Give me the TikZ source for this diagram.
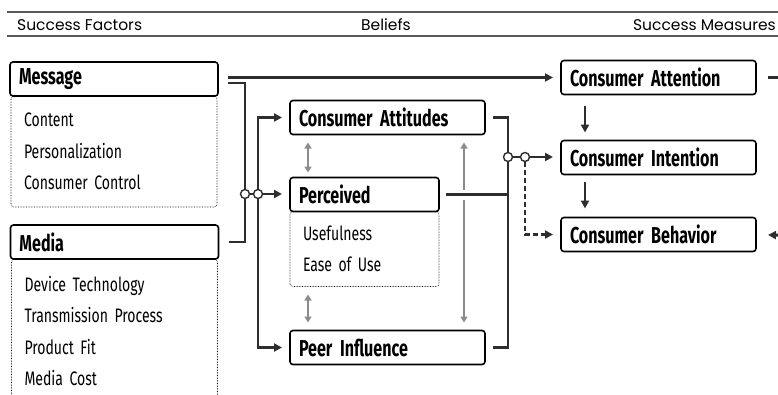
\documentclass[tikz,border=0pt]{standalone}
\usepackage{fontspec}
\usepackage{tikz}
\usetikzlibrary{arrows.meta, positioning}

\newfontfamily\headfont{Poppins}
\newfontfamily\boxfont[FakeStretch=0.70]{Fira Sans}
\newfontfamily\itemfont[FakeStretch=0.72]{Fira Sans}
\definecolor{linkgray}{gray}{0.18}
\definecolor{softgray}{gray}{0.55}
\definecolor{rulegray}{gray}{0.35}

\begin{document}
\begin{tikzpicture}[x=1pt, y=-1pt,
		factor/.style={draw, line width=1.6pt, rounded corners=3pt, fill=white, outer sep=0pt,
			inner xsep=9pt, inner ysep=0pt, minimum height=34pt, text width=#1pt, align=left,
			font=\boxfont\bfseries\fontsize{23}{24}\selectfont},
		items/.style={draw, densely dotted, line width=0.6pt, rounded corners=3pt, outer sep=0pt,
			inner xsep=13pt, align=left, font=\itemfont\fontsize{19.5}{31.5}\selectfont},
		header/.style={font=\headfont\fontsize{15.5}{16}\selectfont, inner sep=0pt},
		link/.style={line width=2.8pt, draw=linkgray},
		arr/.style={link, -{Triangle[length=8pt,width=8pt]}, shorten >=8pt},
		duo/.style={line width=2.4pt, draw=softgray, {Triangle[length=6pt,width=7pt]}-{Triangle[length=6pt,width=7pt]}},
		dot/.style={circle, draw=linkgray, fill=white, line width=1.4pt, minimum size=9pt, inner sep=0pt}]
		
		\useasboundingbox (0,0) rectangle (778,394);
		\clip (0,0) rectangle (778,394);
		
		% column headers
		\draw[rulegray, line width=1.4pt] (7,12) -- (778,12);
		\draw[rulegray, line width=1.4pt] (7,36) -- (778,36);
		\node[header, anchor=base west] (hfac) at (17,30) {Success Factors};
		\node[header, anchor=base] (hbel) at (386,30) {Beliefs};
		\node[header, anchor=base east] (hmea) at (776,30) {Success Measures};
		
		% success factors
		\node[factor=190] (msg) at (114,79) {Message};
		\node[items, below=0pt of msg, minimum height=111pt, text width=180pt] (msgitems) {Content\\Personalization\\Consumer Control};
		\node[factor=190] (media) at (114.5,242) {Media};
		\node[items, below=0pt of media, minimum height=144pt, text width=180pt] (mediaitems) {Device Technology\\Transmission Process\\Product Fit\\Media Cost};
		
		% beliefs
		\node[factor=177] (att) at (387.5,117.5) {Consumer Attitudes};
		\node[factor=131] (perc) at (364.5,194.5) {Perceived};
		\node[items, below=0pt of perc, minimum height=75pt, text width=123pt] (percitems) {Usefulness\\Ease of Use};
		\node[factor=177] (peer) at (387.5,347.5) {Peer Influence};
		
		% success measures
		\node[factor=177] (attn) at (658.5,77.5) {Consumer Attention};
		\node[factor=177, below=46pt of attn] (intn) {Consumer Intention};
		\node[factor=177, below=43pt of intn] (beh) {Consumer Behavior};
		
		\node[dot] (jl) at (245,194) {};
		\node[dot] (jl2) at (258,194) {};
		\node[dot] (jr) at (508,157) {};
		\node[dot] (jr2) at (525,157) {};
		\coordinate (msgout) at ([xshift=10pt]msg.east);
		\coordinate (offattn) at (790,77.5);
		\coordinate (offbeh) at (790,235.5);
		
		% factors into beliefs
		\draw[link] ([yshift=-4pt]msgout) -| (jl);
		\draw[link] ([xshift=10pt]media.east) -| (jl);
		\draw[link] (jl) -- (jl2);
		\draw[arr] (jl2) -- (jl2 -| perc.west);
		\draw[arr] (jl2) |- (att.west);
		\draw[arr] (jl2) |- (peer.west);
		\draw[arr] (msgout |- attn.west) -- (attn.west);
		
		% links among beliefs
		\draw[duo] ([xshift=18pt,yshift=-8pt]att.south west) -- ([xshift=18pt,yshift=5pt]perc.north west);
		\draw[duo] ([xshift=18pt,yshift=-8pt]percitems.south west) -- ([xshift=18pt,yshift=8pt]peer.north west);
		\draw[duo] ([xshift=174pt,yshift=-8pt]att.south west) -- ([xshift=174pt,yshift=8pt]peer.north west);
		
		% beliefs into measures
		\draw[link, preaction={draw=white, line width=10pt}] ([xshift=7pt]perc.east) -- (perc.east -| jr);
		\draw[link] ([xshift=8pt]att.east) -| (jr);
		\draw[link] ([xshift=8pt]peer.east) -| (jr);
		\draw[link] (jr) -- (jr2);
		\draw[arr] (jr2) -- (jr2 -| intn.west);
		\draw[arr, dash pattern=on 5pt off 3pt] (jr2) |- (beh.west);
		
		\draw[arr, shorten >=0pt] ([xshift=24pt,yshift=-11pt]attn.south west) -- ([xshift=24pt,yshift=8pt]intn.north west);
		\draw[arr, shorten >=0pt] ([xshift=24pt,yshift=-7pt]intn.south west) -- ([xshift=24pt,yshift=9pt]beh.north west);
		\draw[link] ([xshift=12pt]attn.east) -- (offattn);
		\draw[arr, shorten >=12pt] (offbeh) -- (beh.east);
	\end{tikzpicture}
\end{document}
